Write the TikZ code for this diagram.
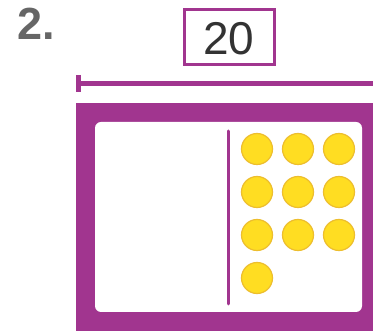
\documentclass[tikz,border=0pt]{standalone}
\usepackage{fontspec}
\setmainfont{Liberation Sans}
\definecolor{plum}{HTML}{A1358F}
\definecolor{counterfill}{HTML}{FFDD22}
\definecolor{counterrim}{HTML}{EDBE2E}
\tikzset{
  counter/.style={circle,fill=counterfill,draw=counterrim,line width=1.2pt,minimum size=31pt,inner sep=0pt},
}
\begin{document}
\begin{tikzpicture}[x=1pt,y=-1pt]
        \useasboundingbox (0,0) rectangle (373,331);
        \clip (0,0) rectangle (373,331);
        \node[text=black!60,font=\fontsize{45}{45}\selectfont\bfseries,anchor=base west,inner sep=0pt] (num) at (17,40) {2.};
        \draw[plum,line width=3pt] (184.5,9.5) rectangle (274.5,64.5);
        \node[text=black!80,font=\fontsize{46}{46}\selectfont,anchor=base,inner sep=0pt] (total) at (229,55) {20};
        % length bar
        \draw[plum,line width=5pt] (79,83.5) -- (380,83.5);
        \draw[plum,line width=5pt] (78.5,75) -- (78.5,92);
        % frame
        \fill[plum] (76,103) rectangle (380,340);
        \fill[white,rounded corners=6pt] (95,122) rectangle (362,312);
        \draw[plum,line width=3pt,line cap=round] (228,131) -- (228,304);
        \foreach \i/\x/\y in {1/257/149,2/298/149,3/339/149,4/257/192,5/298/192,6/339/192,7/257/235,8/298/235,9/339/235,10/257/278}
          \node[counter] (c\i) at (\x,\y) {};
    \end{tikzpicture}
\end{document}
